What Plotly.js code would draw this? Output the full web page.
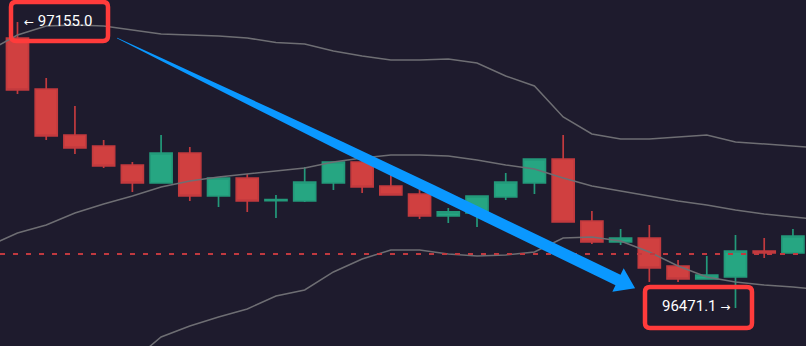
<!DOCTYPE html>
<html><head><meta charset="utf-8">
<script src="https://cdn.plot.ly/plotly-3.0.1.min.js"></script>
<style>html,body{margin:0;padding:0;background:#1e1b2d;overflow:hidden}#chart{width:806px;height:346px;}</style>
</head><body><div id="chart"></div>
<script>
// ---- data ----
const candleIndex = [0,1,2,3,4,5,6,7,8,9,10,11,12,13,14,15,16,17,18,19,20,21,22,23,24,25,26,27];
const openPrice  = [97116.7,96994.8,96884.8,96858.5,96813.0,96770.0,96841.7,96738.9,96782.0,96728.0,96727.0,96770.0,96820.2,96762.8,96743.7,96691.1,96698.3,96736.5,96770.0,96827.4,96679.1,96628.9,96638.5,96571.5,96540.4,96545.2,96607.4,96602.6];
const highPrice  = [97155.0,97021.1,96954.1,96872.8,96820.2,96884.8,96856.1,96782.0,96791.5,96741.3,96808.3,96820.2,96825.0,96813.0,96760.4,96710.2,96738.9,96793.9,96827.4,96884.8,96703.0,96660.0,96669.6,96585.9,96595.4,96645.7,96638.5,96660.0];
const lowPrice   = [96982.8,96872.8,96839.3,96805.9,96748.5,96770.0,96727.0,96712.6,96700.7,96686.3,96724.6,96753.3,96746.1,96741.3,96683.9,96674.4,96664.8,96729.4,96743.7,96676.7,96624.1,96621.7,96533.3,96533.3,96540.4,96471.1,96590.7,96602.6];
const closePrice = [96992.4,96882.4,96853.7,96810.6,96770.0,96841.7,96738.9,96782.0,96727.0,96730.0,96772.4,96820.2,96760.4,96741.3,96691.1,96700.7,96738.9,96772.4,96827.4,96676.7,96628.9,96638.5,96566.7,96540.4,96550.0,96607.4,96602.6,96643.3];

const bandIndex  = [-1,0,1,2,3,4,5,6,7,8,9,10,11,12,13,14,15,16,17,18,19,20,21,22,23,24,25,26,27,28];
const upperBand  = [97085.7,97123.9,97145.4,97147.8,97145.4,97135.9,97126.3,97123.9,97121.5,97116.7,97106.0,97102.4,97085.7,97073.7,97064.1,97064.1,97066.5,97057.0,97025.9,97002.0,96927.8,96887.2,96875.2,96875.2,96880.0,96884.8,96868.0,96863.3,96858.5,96853.7];
const middleBand = [96619.4,96650.4,96669.6,96698.3,96719.8,96738.9,96760.4,96774.8,96784.4,96791.5,96798.7,96805.9,96820.2,96829.8,96837.0,96837.0,96834.6,96825.0,96813.0,96803.5,96782.0,96762.8,96750.9,96738.9,96727.0,96717.4,96705.4,96695.9,96688.7,96681.5];
const lowerBand  = [96198.5,96217.6,96241.5,96270.2,96303.7,96344.4,96401.7,96428.0,96449.6,96468.7,96499.8,96514.1,96557.2,96588.3,96609.8,96609.8,96600.2,96595.4,96597.8,96605.0,96638.5,96640.9,96631.3,96605.0,96571.5,96545.2,96533.3,96526.1,96521.3,96514.1];

const refLevel = 96600.0;
const startValue = '97155.0';
const endValue = '96471.1';

// ---- styling / geometry helpers ----
const W = 806, H = 346;
const BG = '#1e1b2d';
const px = x => x / W, py = y => 1 - y / H;

function roundRect(x0, y0, x1, y1, r) {
  const f = (x, y) => px(x).toFixed(5) + ',' + py(y).toFixed(5);
  return 'M' + f(x0 + r, y0) + ' L' + f(x1 - r, y0) + ' Q' + f(x1, y0) + ' ' + f(x1, y0 + r) +
    ' L' + f(x1, y1 - r) + ' Q' + f(x1, y1) + ' ' + f(x1 - r, y1) +
    ' L' + f(x0 + r, y1) + ' Q' + f(x0, y1) + ' ' + f(x0, y1 - r) +
    ' L' + f(x0, y0 + r) + ' Q' + f(x0, y0) + ' ' + f(x0 + r, y0) + ' Z';
}

function arrowPath() {
  const sx = 117, sy = 38, bx = 618, by = 280;
  const dx = bx - sx, dy = by - sy, L = Math.hypot(dx, dy);
  const ux = dx / L, uy = dy / L, nx = -uy, ny = ux;
  const prof = [[0, 0.4], [50, 1.3], [100, 2.3], [170, 3.5], [250, 4.6], [350, 5.4], [L, 5.8]];
  const left = [], right = [];
  prof.forEach(([d, h]) => {
    const cx = sx + ux * d, cy = sy + uy * d;
    left.push([cx + nx * h, cy + ny * h]);
    right.push([cx - nx * h, cy - ny * h]);
  });
  const hw = 13, hl = 19;
  const wingA = [bx + nx * hw, by + ny * hw];
  const wingB = [bx - nx * hw, by - ny * hw];
  const tip = [bx + ux * hl, by + uy * hl];
  const pts = [...left, wingA, tip, wingB, ...right.reverse()];
  return 'M' + pts.map(p => px(p[0]).toFixed(5) + ',' + py(p[1]).toFixed(5)).join(' L') + ' Z';
}

const bandStyle = {color: '#6e6e73', width: 1.5};
const labelFont = {family: 'Roboto, "DejaVu Sans", sans-serif', size: 15, color: '#ffffff'};

const traces = [
  {
    type: 'candlestick', x: candleIndex, open: openPrice, high: highPrice, low: lowPrice, close: closePrice,
    increasing: {fillcolor: '#26a682', line: {color: '#23997a', width: 1.7}},
    decreasing: {fillcolor: '#d04040', line: {color: '#c23a3e', width: 1.7}},
    whiskerwidth: 0, hoverinfo: 'skip'
  },
  {type: 'scatter', mode: 'lines', x: bandIndex, y: upperBand, line: bandStyle, hoverinfo: 'skip'},
  {type: 'scatter', mode: 'lines', x: bandIndex, y: middleBand, line: bandStyle, hoverinfo: 'skip'},
  {type: 'scatter', mode: 'lines', x: bandIndex, y: lowerBand, line: bandStyle, hoverinfo: 'skip'}
];

const layout = {
  width: W, height: H,
  margin: {l: 0, r: 0, t: 0, b: 0, pad: 0},
  paper_bgcolor: BG, plot_bgcolor: BG,
  showlegend: false,
  boxgap: 0.234, boxgroupgap: 0,
  xaxis: {range: [-0.609, 27.455], visible: false, showgrid: false, zeroline: false, rangeslider: {visible: false}, fixedrange: true},
  yaxis: {range: [96380.2, 97207.6], visible: false, showgrid: false, zeroline: false, fixedrange: true},
  shapes: [
    {type: 'line', xref: 'paper', x0: 0, x1: 1, yref: 'y', y0: refLevel, y1: refLevel,
     line: {color: '#c0393f', width: 2, dash: '5px,8px'}, layer: 'above'},
    {type: 'path', xref: 'paper', yref: 'paper', path: arrowPath(), fillcolor: '#0a98ff', line: {width: 0}, layer: 'above'},
    {type: 'path', xref: 'paper', yref: 'paper', path: roundRect(11, 2, 108, 41, 5), fillcolor: 'rgba(0,0,0,0)', line: {color: '#ff3b3b', width: 4.5}, layer: 'above'},
    {type: 'path', xref: 'paper', yref: 'paper', path: roundRect(645, 287, 752, 328, 5), fillcolor: 'rgba(0,0,0,0)', line: {color: '#ff3b3b', width: 4.5}, layer: 'above'}
  ],
  annotations: [
    {xref: 'paper', yref: 'paper', x: px(58), y: py(21), xanchor: 'center', yanchor: 'middle', showarrow: false,
     text: '<span style="font-size:12px">\u2190</span> ' + startValue, font: labelFont},
    {xref: 'paper', yref: 'paper', x: px(695.5), y: py(305.5), xanchor: 'center', yanchor: 'middle', showarrow: false,
     text: endValue + ' <span style="font-size:12px">\u2192</span>', font: labelFont}
  ]
};

Plotly.newPlot('chart', traces, layout, {staticPlot: true, displayModeBar: false});
</script>
</body></html>
